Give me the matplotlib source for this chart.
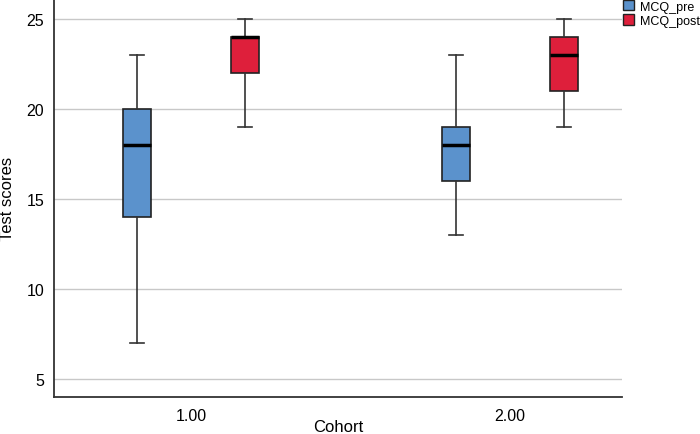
import matplotlib.pyplot as plt
from matplotlib.patches import Patch

plt.rcParams['font.family'] = ['Liberation Sans', 'DejaVu Sans']

cohorts = ["1.00", "2.00"]
series = ["MCQ_pre", "MCQ_post"]
colors = ["#5b92cc", "#de1f3b"]

# five-number summaries per cohort: [whislo, q1, med, q3, whishi]
mcq_pre = [[7, 14, 18, 20, 23], [13, 16, 18, 19, 23]]
mcq_post = [[19, 22, 24, 24, 25], [19, 21, 23, 24, 25]]

fig = plt.figure(figsize=(7, 4.35), dpi=100)
ax = fig.add_axes([0.077, 0.085, 0.812, 0.915])

offset = 0.169
width = 0.088
for vals, color, dx in [(mcq_pre, colors[0], -offset), (mcq_post, colors[1], offset)]:
    stats = []
    for v in vals:
        stats.append(dict(whislo=v[0], q1=v[1], med=v[2], q3=v[3], whishi=v[4], fliers=[]))
    pos = [i + 1 + dx for i in range(len(vals))]
    ax.bxp(stats, positions=pos, widths=width, patch_artist=True, showfliers=False,
           boxprops=dict(facecolor=color, edgecolor="#222222", linewidth=1.2),
           medianprops=dict(color="black", linewidth=2.5),
           whiskerprops=dict(color="#333333", linewidth=1.2),
           capprops=dict(color="#333333", linewidth=1.2),
           capwidths=width / 2, zorder=3)

ax.set_xlim(0.571, 2.351)
ax.set_ylim(4.0, 26.1)
ax.set_xticks([1, 2])
ax.set_xticklabels(cohorts)
ax.set_yticks([5, 10, 15, 20, 25])
ax.tick_params(length=0, labelsize=11.5)
ax.tick_params(axis="x", pad=8)
ax.tick_params(axis="y", pad=7)
ax.yaxis.grid(True, color="#c8c8c8", linewidth=1)
ax.set_axisbelow(True)
for s in ["top", "right"]:
    ax.spines[s].set_visible(False)
for s in ["left", "bottom"]:
    ax.spines[s].set_color("#333333")
    ax.spines[s].set_linewidth(1.3)

ax.set_xlabel("Cohort", fontsize=12, labelpad=-3)
ax.set_ylabel("Test scores", fontsize=12)
ax.yaxis.set_label_coords(-0.068, 0.5)

handles = [Patch(facecolor=c, edgecolor="#222222", label=l) for c, l in zip(colors, series)]
fig.legend(handles=handles, loc="upper left", bbox_to_anchor=(623 / 700, 1 - 1 / 435), frameon=False,
           fontsize=9, handlelength=0.9, handleheight=0.9, handletextpad=0.45, labelspacing=0.15,
           borderpad=0, borderaxespad=0)

fig.savefig("out.png", dpi=100)
